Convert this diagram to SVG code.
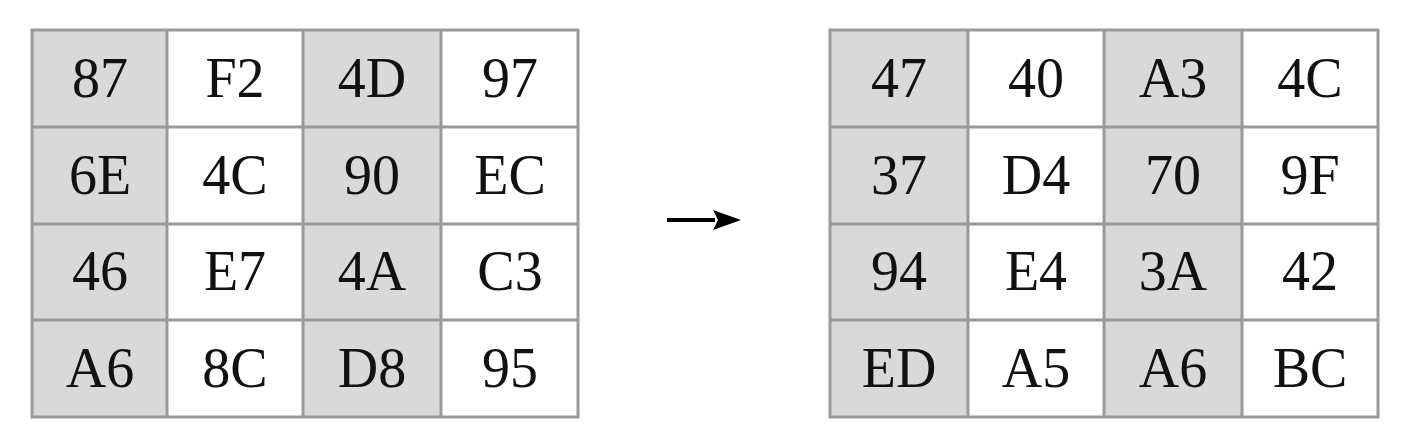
<svg xmlns="http://www.w3.org/2000/svg" width="1418" height="441" viewBox="0 0 1418 441">
<defs>
<style>
.g{fill:#d9d9d9}
.w{fill:#ffffff}
.ln{stroke:#9a9a9a;stroke-width:3;fill:none}
text{font-family:"Liberation Serif","Times New Roman",serif;font-size:56px;fill:#111;text-anchor:middle}
</style>
<marker id="ah" markerWidth="10" markerHeight="10" refX="9" refY="5" orient="auto" markerUnits="userSpaceOnUse"><path d="M0,0 L10,5 L0,10 z" fill="#000"/></marker>
</defs>
<rect width="1418" height="441" fill="#fff"/>
<g id="left-grid">
<rect class="g" x="32" y="30" width="135" height="387"/>
<rect class="w" x="167" y="30" width="136" height="387"/>
<rect class="g" x="303" y="30" width="138" height="387"/>
<rect class="w" x="441" y="30" width="137" height="387"/>
<path class="ln" d="M32,30 H578 V417 H32 Z M167,30 V417 M303,30 V417 M441,30 V417 M32,127 H578 M32,224 H578 M32,320 H578"/>
<text x="100" y="97">87</text><text x="235" y="97">F2</text><text x="372" y="97">4D</text><text x="510" y="97">97</text>
<text x="100" y="194">6E</text><text x="235" y="194">4C</text><text x="372" y="194">90</text><text x="510" y="194">EC</text>
<text x="100" y="290">46</text><text x="235" y="290">E7</text><text x="372" y="290">4A</text><text x="510" y="290">C3</text>
<text x="100" y="387">A6</text><text x="235" y="387">8C</text><text x="372" y="387">D8</text><text x="510" y="387">95</text>
</g>
<g id="connectors">
<path d="M667,220 H715" stroke="#000" stroke-width="4"/>
<path d="M713,210 L741,220 L713,230 L718,220 z" fill="#000"/>
</g>
<g id="right-grid">
<rect class="g" x="830" y="30" width="138" height="387"/>
<rect class="w" x="968" y="30" width="136" height="387"/>
<rect class="g" x="1104" y="30" width="138" height="387"/>
<rect class="w" x="1242" y="30" width="136" height="387"/>
<path class="ln" d="M830,30 H1378 V417 H830 Z M968,30 V417 M1104,30 V417 M1242,30 V417 M830,127 H1378 M830,224 H1378 M830,320 H1378"/>
<text x="899" y="97">47</text><text x="1036" y="97">40</text><text x="1173" y="97">A3</text><text x="1310" y="97">4C</text>
<text x="899" y="194">37</text><text x="1036" y="194">D4</text><text x="1173" y="194">70</text><text x="1310" y="194">9F</text>
<text x="899" y="290">94</text><text x="1036" y="290">E4</text><text x="1173" y="290">3A</text><text x="1310" y="290">42</text>
<text x="899" y="387">ED</text><text x="1036" y="387">A5</text><text x="1173" y="387">A6</text><text x="1310" y="387">BC</text>
</g>
</svg>
